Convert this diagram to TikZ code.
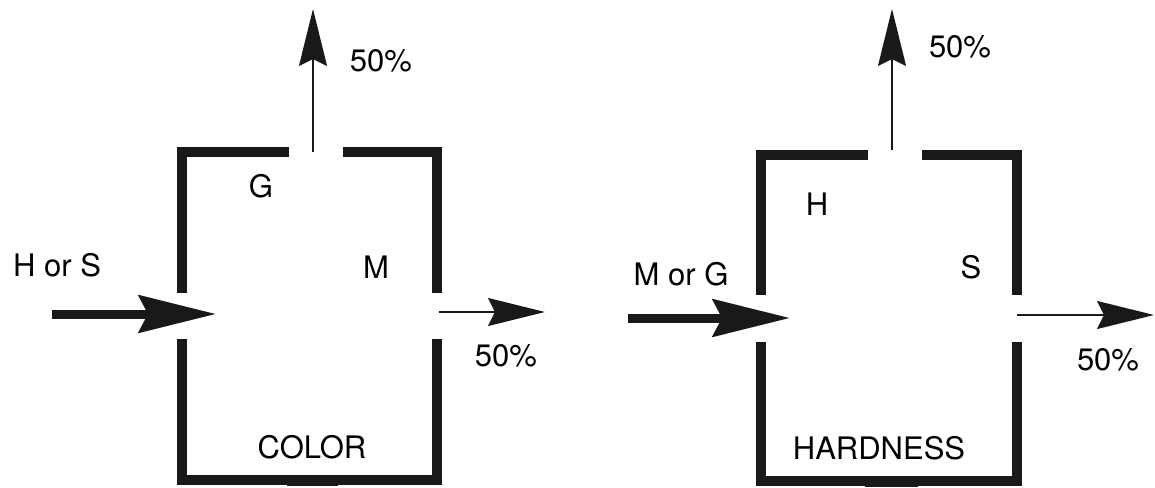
\documentclass[tikz,border=0pt]{standalone}
\usepackage{fontspec}
\setmainfont{TeX Gyre Heros}
\usetikzlibrary{positioning,arrows.meta}
\tikzstyle{wall}=[line width=10pt, line join=miter, draw=black!90]
\tikzstyle{inflow}=[line width=9pt, draw=black!90,
 -{Stealth[length=77pt, width=37pt, inset=9pt]}]
\tikzstyle{outflow}=[line width=2pt, draw=black!90,
 -{Stealth[length=57pt, width=28pt, inset=7pt]}]
\tikzstyle{lbl}=[anchor=base, inner sep=0pt, font=\fontsize{31}{37}\selectfont]

\begin{document}
\begin{tikzpicture}[x=1pt, y=-1pt]
\useasboundingbox (0,0) rectangle (1155,487);

%% COLOR box
\draw[wall] (289,152) -- (182,152) -- (182,293);
\draw[wall] (343,152) -- (437,152) -- (437,293);
\draw[wall] (182,339) -- (182,480) -- (437,480) -- (437,339);
\fill[black!90] (287,484) rectangle (338,486);

\coordinate (CIN0) at (52,314);   \coordinate (CIN1) at (216,314);
\coordinate (CUP0) at (313,152);  \coordinate (CUP1) at (313,9);
\coordinate (COUT0) at (439,312); \coordinate (COUT1) at (545,312);
\draw[inflow]  (CIN0) -- (CIN1);
\draw[outflow] (CUP0) -- (CUP1);
\draw[outflow] (COUT0) -- (COUT1);

\node (CHS)  [lbl] at (57,276)  {H or S};
\node (CG)   [lbl] at (261,197) {G};
\node (CM)   [lbl] at (376,278) {M};
\node (CNAME)[lbl] at (312,458) {COLOR};
\node (CPUP) [lbl] at (381,71)  {50\%};
\node (CPOUT)[lbl] at (506,366) {50\%};

%% HARDNESS box
\draw[wall] (868,155) -- (761,155) -- (761,295);
\draw[wall] (922,155) -- (1017,155) -- (1017,295);
\draw[wall] (761,342) -- (761,481) -- (1017,481) -- (1017,342);
\fill[black!90] (865,485) rectangle (918,487);

\coordinate (HIN0) at (628,318);   \coordinate (HIN1) at (790,318);
\coordinate (HUP0) at (892,150);   \coordinate (HUP1) at (892,9);
\coordinate (HOUT0) at (1017,315); \coordinate (HOUT1) at (1154,315);
\draw[inflow]  (HIN0) -- (HIN1);
\draw[outflow] (HUP0) -- (HUP1);
\draw[outflow] (HOUT0) -- (HOUT1);

\node (HMG)  [lbl] at (681,285)  {M or G};
\node (HH)   [lbl] at (817,215)  {H};
\node (HS)   [lbl] at (971,278)  {S};
\node (HNAME)[lbl] at (879,459)  {HARDNESS};
\node (HPUP) [lbl] at (960,58)   {50\%};
\node (HPOUT)[lbl] at (1108,370) {50\%};

\end{tikzpicture}
\end{document}
